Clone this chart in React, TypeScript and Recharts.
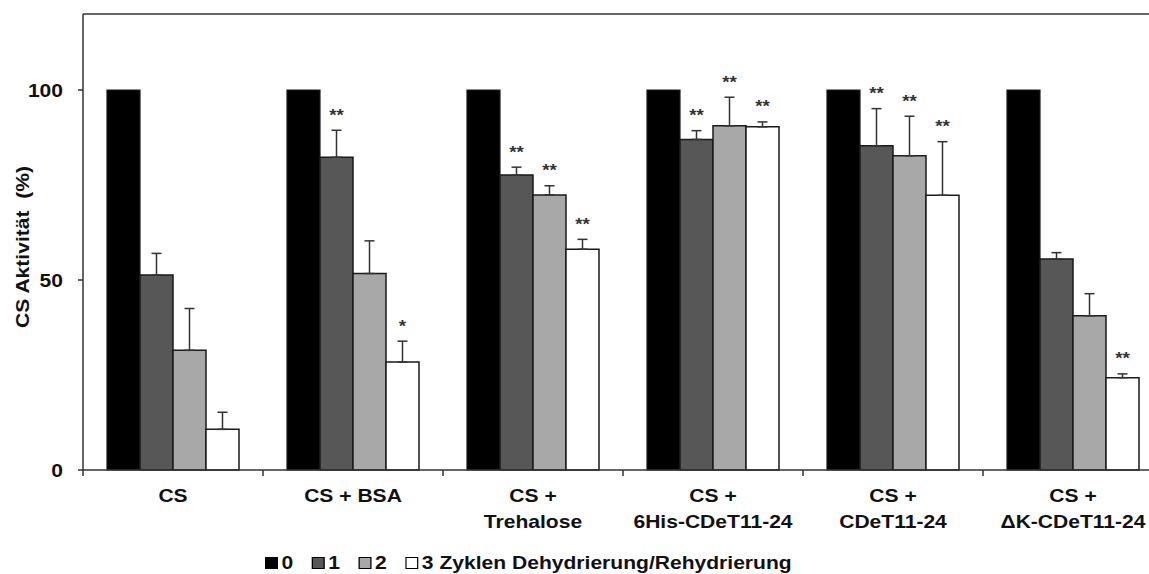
import React from 'react';
import {
  BarChart,
  Bar,
  XAxis,
  YAxis,
  ErrorBar,
  LabelList,
  Legend,
  ReferenceLine,
} from 'recharts';

const categories = [
  'CS',
  'CS + BSA',
  'CS +\nTrehalose',
  'CS +\n6His-CDeT11-24',
  'CS +\nCDeT11-24',
  'CS +\nΔK-CDeT11-24',
];

const cycle0 = [100, 100, 100, 100, 100, 100];
const cycle1 = [51.3, 82.3, 77.6, 87.0, 85.3, 55.5];
const cycle2 = [31.5, 51.7, 72.4, 90.6, 82.7, 40.6];
const cycle3 = [10.7, 28.4, 58.1, 90.3, 72.3, 24.3];

const err1 = [5.7, 7.1, 2.1, 2.3, 9.8, 1.7];
const err2 = [11.0, 8.6, 2.4, 7.5, 10.4, 5.8];
const err3 = [4.5, 5.5, 2.6, 1.3, 14.1, 1.0];

const sig1 = ['', '**', '**', '**', '**', ''];
const sig2 = ['', '', '**', '**', '**', ''];
const sig3 = ['', '*', '**', '**', '**', '**'];

const yTicks = [0, 50, 100];
const yMax = 120;

const data = categories.map((name, i) => ({
  name,
  c0: cycle0[i],
  c1: cycle1[i],
  c2: cycle2[i],
  c3: cycle3[i],
  e1: [0, err1[i]],
  e2: [0, err2[i]],
  e3: [0, err3[i]],
  s1: sig1[i],
  s2: sig2[i],
  s3: sig3[i],
}));

const FONT = '"Liberation Sans", Arial, sans-serif';
const SX = 1.17;
const AXIS = '#333';
const OUTLINE = '#1a1a1a';

const CategoryTick = (props: any) => {
  const { x, y, payload, width, visibleTicksCount } = props;
  const half =
    typeof payload?.offset === 'number' && payload.offset > 0
      ? payload.offset
      : width / (visibleTicksCount || 1) / 2;
  const lines = String(payload.value).split('\n');
  return (
    <g>
      <line x1={x - half} x2={x - half} y1={y} y2={y + 6} stroke={AXIS} strokeWidth={1.5} />
      <text
        transform={`translate(${x},${y}) scale(${SX},1)`}
        textAnchor="middle"
        fontSize={18}
        fontWeight="bold"
        fill="#111"
        fontFamily={FONT}
      >
        {lines.map((l, i) => (
          <tspan key={i} x={0} y={32 + i * 26}>
            {l}
          </tspan>
        ))}
      </text>
    </g>
  );
};

const ValueTick = (props: any) => {
  const { x, y, payload } = props;
  return (
    <text
      transform={`translate(${x},${y}) scale(${SX},1)`}
      textAnchor="end"
      dy={6.5}
      fontSize={18}
      fontWeight="bold"
      fill="#111"
      fontFamily={FONT}
    >
      {payload.value}
    </text>
  );
};

// stars sit above the error bar cap
const makeStars = (values: number[], errs: number[]) => (props: any) => {
  const vb = props.viewBox || {};
  const x = props.x ?? vb.x;
  const y = props.y ?? vb.y;
  const width = props.width ?? vb.width;
  const height = props.height ?? vb.height;
  const { index, value } = props;
  if (!value) return null;
  const perUnit = height / values[index];
  const capY = y - errs[index] * perUnit;
  return (
    <text
      transform={`translate(${x + width / 2},${capY - 9.5}) scale(${SX},1)`}
      textAnchor="middle"
      fontSize={16}
      fontWeight="bold"
      fill="#333"
      fontFamily={FONT}
    >
      {value}
    </text>
  );
};

const renderLegend = (props: any) => {
  const { payload } = props;
  return (
    <div
      style={{
        display: 'flex',
        alignItems: 'center',
        transform: `scaleX(${SX})`,
        transformOrigin: 'left center',
        fontFamily: FONT,
        fontWeight: 'bold',
        fontSize: 18,
        lineHeight: '20px',
        color: '#111',
        whiteSpace: 'nowrap',
      }}
    >
      {(payload || []).map((p: any) => (
        <div key={p.value} style={{ display: 'flex', alignItems: 'center', marginRight: 16 }}>
          <span
            style={{
              display: 'inline-block',
              width: 9,
              height: 10,
              background: p.color,
              border: '1px solid #000',
              marginRight: 3,
            }}
          />
          <span>{p.value}</span>
        </div>
      ))}
    </div>
  );
};

const App: React.FC = () => {
  return (
    <div
      style={{
        position: 'absolute',
        left: 0,
        top: 0,
        width: 1149,
        height: 574,
        overflow: 'hidden',
        background: '#fff',
      }}
    >
      <BarChart
        width={1163}
        height={574}
        data={data}
        margin={{ top: 14, right: 0, left: 0, bottom: 44 }}
        barCategoryGap={24}
        barGap={0}
      >
        <XAxis
          dataKey="name"
          height={60}
          tick={<CategoryTick />}
          tickLine={false}
          tickSize={0}
          tickMargin={0}
          interval={0}
          axisLine={{ stroke: AXIS, strokeWidth: 1.5 }}
        />
        <YAxis
          width={83}
          domain={[0, yMax]}
          ticks={yTicks}
          tick={<ValueTick />}
          tickSize={5}
          tickMargin={15}
          tickLine={{ stroke: AXIS, strokeWidth: 1.5 }}
          axisLine={{ stroke: AXIS, strokeWidth: 1.5 }}
          label={{
            content: () => (
              <text
                transform={`translate(29,247) rotate(-90) scale(${SX},1)`}
                textAnchor="middle"
                fontSize={18}
                fontWeight="bold"
                fill="#111"
                fontFamily={FONT}
                style={{ whiteSpace: 'pre' }}
              >
                {'CS Aktivität  (%)'}
              </text>
            ),
          }}
        />
        <ReferenceLine y={yMax} stroke={AXIS} strokeWidth={1.5} />
        <Legend
          layout="horizontal"
          verticalAlign="middle"
          align="center"
          wrapperStyle={{ left: 265, top: 553, width: 'auto' }}
          content={renderLegend}
        />
        <Bar dataKey="c0" name="0" fill="#000000" stroke={OUTLINE} strokeWidth={1.2} isAnimationActive={false} />
        <Bar dataKey="c1" name="1" fill="#575757" stroke={OUTLINE} strokeWidth={1.5} isAnimationActive={false}>
          <ErrorBar dataKey="e1" width={5} stroke={AXIS} strokeWidth={1.5} direction="y" />
          <LabelList dataKey="s1" content={makeStars(cycle1, err1)} />
        </Bar>
        <Bar dataKey="c2" name="2" fill="#a8a8a8" stroke={OUTLINE} strokeWidth={1.5} isAnimationActive={false}>
          <ErrorBar dataKey="e2" width={5} stroke={AXIS} strokeWidth={1.5} direction="y" />
          <LabelList dataKey="s2" content={makeStars(cycle2, err2)} />
        </Bar>
        <Bar
          dataKey="c3"
          name="3 Zyklen Dehydrierung/Rehydrierung"
          fill="#ffffff"
          stroke={OUTLINE}
          strokeWidth={1.5}
          isAnimationActive={false}
        >
          <ErrorBar dataKey="e3" width={5} stroke={AXIS} strokeWidth={1.5} direction="y" />
          <LabelList dataKey="s3" content={makeStars(cycle3, err3)} />
        </Bar>
      </BarChart>
    </div>
  );
};

export default App;
